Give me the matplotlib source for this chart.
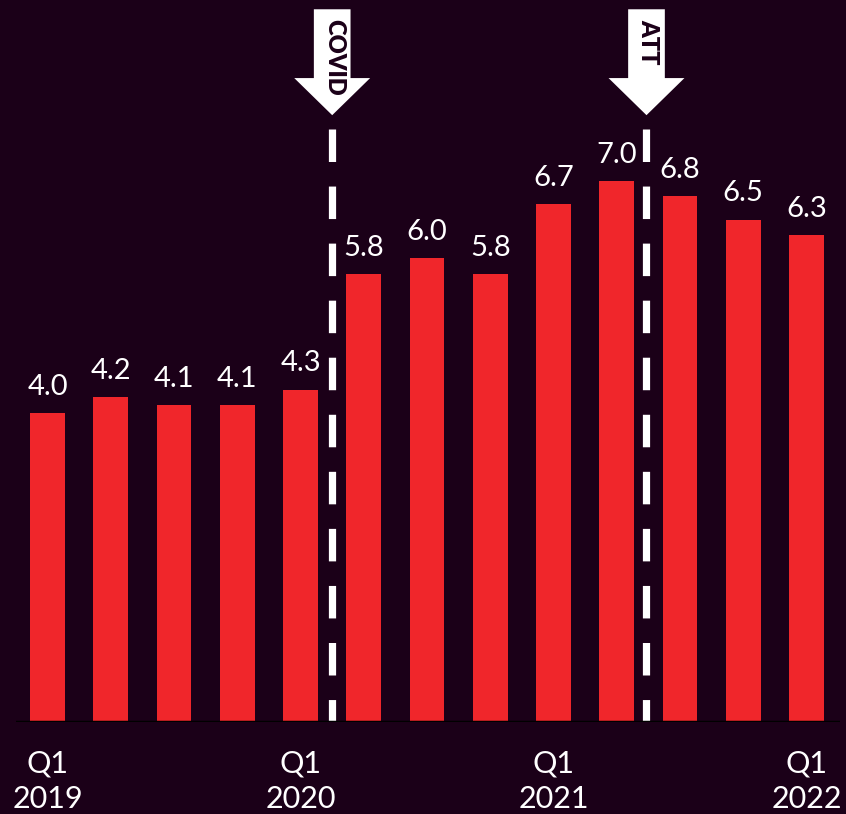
import matplotlib.pyplot as plt
from matplotlib.patches import Polygon

# quarterly values, Q1 2019 .. Q1 2022
quarters = ["Q1 2019", "Q2 2019", "Q3 2019", "Q4 2019",
            "Q1 2020", "Q2 2020", "Q3 2020", "Q4 2020",
            "Q1 2021", "Q2 2021", "Q3 2021", "Q4 2021",
            "Q1 2022"]
values = [4.0, 4.2, 4.1, 4.1, 4.3, 5.8, 6.0, 5.8, 6.7, 7.0, 6.8, 6.5, 6.3]
tick_pos = [0, 4, 8, 12]
tick_labels = ["Q1\n2019", "Q1\n2020", "Q1\n2021", "Q1\n2022"]
events = ["COVID", "ATT"]
event_pos = [4.5, 9.47]

BG = "#1b0018"
RED = "#f0262b"
FONT = "Lato"

fig = plt.figure(figsize=(8.46, 8.14), dpi=100, facecolor=BG)
ax = fig.add_axes([16 / 846, 92 / 814, 824 / 846, 722 / 814])
ax.set_facecolor(BG)

x = list(range(len(values)))
ax.bar(x, values, width=0.55, color=RED, zorder=2)

for xi, v in zip(x, values):
    ax.text(xi, v + 0.17, f"{v:.1f}", ha="center", va="bottom",
            color="white", fontsize=21, family=FONT, fontweight="normal")

ax.set_xlim(-0.5, 12.53)
ax.set_ylim(0, 9.34)

# event markers: dashed line + down arrow with label
top_line = 7.67
for name, ex in zip(events, event_pos):
    ax.plot([ex, ex], [top_line, 0], color="white", lw=5.2,
            dashes=[4.5, 3.4], solid_capstyle="butt",
            dash_capstyle="butt", zorder=3)
    shaft = 0.29
    head = 0.6
    arrow = Polygon([
        (ex - shaft, 9.22), (ex + shaft, 9.22), (ex + shaft, 8.33),
        (ex + head, 8.33), (ex, 7.85), (ex - head, 8.33),
        (ex - shaft, 8.33)],
        closed=True, facecolor="white", edgecolor="none", zorder=4)
    ax.add_patch(arrow)
    ax.text(ex + 0.03, 9.1, name, rotation=-90, ha="center", va="top",
            color=BG, fontsize=17, family=FONT, fontweight="heavy", zorder=5)

# baseline
ax.axhline(0, color="black", lw=2.5, zorder=4)

ax.set_xticks(tick_pos)
ax.set_xticklabels(tick_labels, color="white", fontsize=22, family=FONT,
                   fontweight="normal", linespacing=1.3)
ax.tick_params(axis="x", length=0, pad=20)
ax.set_yticks([])
for s in ax.spines.values():
    s.set_visible(False)

fig.savefig("out.png", dpi=100, facecolor=BG)
